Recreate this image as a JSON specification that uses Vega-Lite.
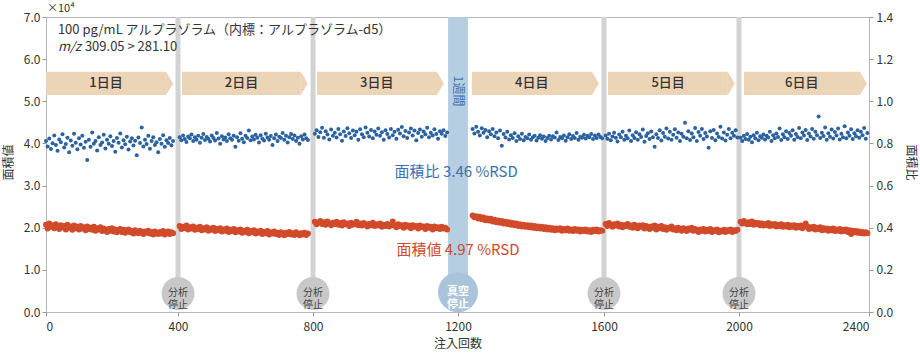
{
"$schema":"https://vega.github.io/schema/vega-lite/v6.json",
"width":823,"height":295,
"autosize":{"type":"none"},
"padding":{"left":46,"top":17,"right":51,"bottom":46},
"background":"white",
"config":{"view":{"stroke":"#b8b8b8","strokeWidth":1},"font":"Noto Sans CJK JP","axis":{"domain":false,"grid":false,"tickColor":"#999999","tickSize":4,"labelColor":"#333333","titleColor":"#333333","labelFont":"Noto Sans CJK JP","titleFont":"Noto Sans CJK JP","labelFontSize":12,"titleFontSize":12,"titleFontWeight":"normal"},"text":{"font":"Noto Sans CJK JP"}},
"datasets":{
"stops":[{"n":400},{"n":800},{"n":1600},{"n":2000}],
"days":[{"day":"1日目","s":0,"e":364,"m":182},{"day":"2日目","s":412,"e":764,"m":588},{"day":"3日目","s":811,"e":1142,"m":976},{"day":"4日目","s":1238,"e":1567,"m":1402},{"day":"5日目","s":1612,"e":1967,"m":1790},{"day":"6日目","s":2015,"e":2372,"m":2193}],
"pts":[
{"n":0,"a":2.07,"r":0.812},{"n":5,"a":1.98,"r":0.786},{"n":10,"a":2.10,"r":0.823},{"n":15,"a":2.02,"r":0.774},{"n":20,"a":2.05,"r":0.801},{"n":25,"a":1.99,"r":0.838},{"n":30,"a":2.08,"r":0.792},{"n":35,"a":2.03,"r":0.765},{"n":40,"a":1.97,"r":0.819},{"n":45,"a":2.06,"r":0.806},{"n":50,"a":2.01,"r":0.843},{"n":55,"a":2.04,"r":0.781},{"n":60,"a":1.96,"r":0.797},{"n":65,"a":2.07,"r":0.827},{"n":70,"a":2.00,"r":0.758},{"n":75,"a":2.03,"r":0.814},{"n":80,"a":1.95,"r":0.789},{"n":85,"a":2.05,"r":0.846},{"n":90,"a":1.99,"r":0.803},{"n":95,"a":2.02,"r":0.772},{"n":100,"a":1.96,"r":0.825},{"n":105,"a":2.04,"r":0.795},{"n":110,"a":1.98,"r":0.836},{"n":115,"a":2.01,"r":0.779},{"n":120,"a":1.94,"r":0.808},{"n":125,"a":2.03,"r":0.721},{"n":130,"a":1.97,"r":0.817},{"n":135,"a":2.00,"r":0.784},{"n":140,"a":1.95,"r":0.852},{"n":145,"a":2.02,"r":0.798},{"n":150,"a":1.93,"r":0.811},{"n":155,"a":1.99,"r":0.767},{"n":160,"a":1.96,"r":0.829},{"n":165,"a":2.01,"r":0.793},{"n":170,"a":1.92,"r":0.805},{"n":175,"a":1.98,"r":0.841},{"n":180,"a":1.95,"r":0.776},{"n":185,"a":1.90,"r":0.818},{"n":190,"a":1.97,"r":0.799},{"n":195,"a":1.93,"r":0.834},{"n":200,"a":1.99,"r":0.788},{"n":205,"a":1.91,"r":0.812},{"n":210,"a":1.96,"r":0.761},{"n":215,"a":1.89,"r":0.826},{"n":220,"a":1.94,"r":0.803},{"n":225,"a":1.97,"r":0.847},{"n":230,"a":1.90,"r":0.781},{"n":235,"a":1.95,"r":0.815},{"n":240,"a":1.88,"r":0.796},{"n":245,"a":1.93,"r":0.832},{"n":250,"a":1.96,"r":0.771},{"n":255,"a":1.89,"r":0.809},{"n":260,"a":1.92,"r":0.824},{"n":265,"a":1.86,"r":0.790},{"n":270,"a":1.94,"r":0.813},{"n":275,"a":1.90,"r":0.744},{"n":280,"a":1.87,"r":0.828},{"n":285,"a":1.93,"r":0.802},{"n":290,"a":1.89,"r":0.876},{"n":295,"a":1.85,"r":0.785},{"n":300,"a":1.91,"r":0.818},{"n":305,"a":1.88,"r":0.797},{"n":310,"a":1.93,"r":0.836},{"n":315,"a":1.86,"r":0.775},{"n":320,"a":1.90,"r":0.811},{"n":325,"a":1.84,"r":0.829},{"n":330,"a":1.91,"r":0.793},{"n":335,"a":1.87,"r":0.806},{"n":340,"a":1.85,"r":0.758},{"n":345,"a":1.90,"r":0.821},{"n":350,"a":1.86,"r":0.799},{"n":355,"a":1.92,"r":0.839},{"n":360,"a":1.84,"r":0.784},{"n":365,"a":1.88,"r":0.815},{"n":370,"a":1.91,"r":0.802},{"n":375,"a":1.85,"r":0.826},{"n":380,"a":1.89,"r":0.791},{"n":385,"a":1.87,"r":0.812},
{"n":405,"a":2.04,"r":0.829},{"n":410,"a":1.97,"r":0.815},{"n":415,"a":2.02,"r":0.838},{"n":420,"a":1.99,"r":0.821},{"n":425,"a":2.05,"r":0.807},{"n":430,"a":1.96,"r":0.833},{"n":435,"a":2.01,"r":0.824},{"n":440,"a":1.98,"r":0.842},{"n":445,"a":2.03,"r":0.812},{"n":450,"a":1.95,"r":0.829},{"n":455,"a":2.00,"r":0.818},{"n":460,"a":1.97,"r":0.836},{"n":465,"a":2.02,"r":0.803},{"n":470,"a":1.94,"r":0.827},{"n":475,"a":1.99,"r":0.845},{"n":480,"a":1.96,"r":0.816},{"n":485,"a":2.01,"r":0.831},{"n":490,"a":1.93,"r":0.822},{"n":495,"a":1.98,"r":0.809},{"n":500,"a":1.95,"r":0.838},{"n":505,"a":2.00,"r":0.826},{"n":510,"a":1.92,"r":0.814},{"n":515,"a":1.97,"r":0.849},{"n":520,"a":1.94,"r":0.823},{"n":525,"a":1.99,"r":0.798},{"n":530,"a":1.91,"r":0.834},{"n":535,"a":1.96,"r":0.819},{"n":540,"a":1.93,"r":0.828},{"n":545,"a":1.98,"r":0.811},{"n":550,"a":1.90,"r":0.843},{"n":555,"a":1.95,"r":0.825},{"n":560,"a":1.92,"r":0.817},{"n":565,"a":1.97,"r":0.836},{"n":570,"a":1.89,"r":0.784},{"n":575,"a":1.94,"r":0.829},{"n":580,"a":1.91,"r":0.813},{"n":585,"a":1.96,"r":0.848},{"n":590,"a":1.88,"r":0.822},{"n":595,"a":1.93,"r":0.806},{"n":600,"a":1.90,"r":0.837},{"n":605,"a":1.95,"r":0.826},{"n":610,"a":1.87,"r":0.861},{"n":615,"a":1.92,"r":0.815},{"n":620,"a":1.89,"r":0.833},{"n":625,"a":1.94,"r":0.819},{"n":630,"a":1.86,"r":0.841},{"n":635,"a":1.91,"r":0.827},{"n":640,"a":1.88,"r":0.805},{"n":645,"a":1.93,"r":0.839},{"n":650,"a":1.85,"r":0.822},{"n":655,"a":1.90,"r":0.814},{"n":660,"a":1.87,"r":0.846},{"n":665,"a":1.92,"r":0.828},{"n":670,"a":1.84,"r":0.817},{"n":675,"a":1.89,"r":0.835},{"n":680,"a":1.86,"r":0.793},{"n":685,"a":1.91,"r":0.824},{"n":690,"a":1.85,"r":0.842},{"n":695,"a":1.88,"r":0.811},{"n":700,"a":1.83,"r":0.832},{"n":705,"a":1.89,"r":0.826},{"n":710,"a":1.86,"r":0.849},{"n":715,"a":1.82,"r":0.818},{"n":720,"a":1.88,"r":0.836},{"n":725,"a":1.85,"r":0.804},{"n":730,"a":1.90,"r":0.829},{"n":735,"a":1.84,"r":0.845},{"n":740,"a":1.87,"r":0.821},{"n":745,"a":1.83,"r":0.838},{"n":750,"a":1.89,"r":0.812},{"n":755,"a":1.85,"r":0.827},{"n":760,"a":1.82,"r":0.799},{"n":765,"a":1.87,"r":0.834},{"n":770,"a":1.84,"r":0.819},{"n":775,"a":1.88,"r":0.842},{"n":780,"a":1.83,"r":0.825},{"n":785,"a":1.86,"r":0.816},
{"n":805,"a":2.14,"r":0.846},{"n":810,"a":2.08,"r":0.862},{"n":815,"a":2.12,"r":0.831},{"n":820,"a":2.16,"r":0.853},{"n":825,"a":2.09,"r":0.874},{"n":830,"a":2.13,"r":0.827},{"n":835,"a":2.07,"r":0.858},{"n":840,"a":2.15,"r":0.842},{"n":845,"a":2.10,"r":0.819},{"n":850,"a":2.06,"r":0.866},{"n":855,"a":2.12,"r":0.837},{"n":860,"a":2.09,"r":0.851},{"n":865,"a":2.14,"r":0.828},{"n":870,"a":2.07,"r":0.869},{"n":875,"a":2.11,"r":0.844},{"n":880,"a":2.05,"r":0.813},{"n":885,"a":2.13,"r":0.857},{"n":890,"a":2.08,"r":0.835},{"n":895,"a":2.10,"r":0.872},{"n":900,"a":2.04,"r":0.848},{"n":905,"a":2.12,"r":0.826},{"n":910,"a":2.07,"r":0.861},{"n":915,"a":2.09,"r":0.839},{"n":920,"a":2.14,"r":0.855},{"n":925,"a":2.06,"r":0.817},{"n":930,"a":2.10,"r":0.867},{"n":935,"a":2.05,"r":0.843},{"n":940,"a":2.11,"r":0.829},{"n":945,"a":2.08,"r":0.876},{"n":950,"a":2.03,"r":0.851},{"n":955,"a":2.09,"r":0.833},{"n":960,"a":2.06,"r":0.864},{"n":965,"a":2.12,"r":0.824},{"n":970,"a":2.04,"r":0.857},{"n":975,"a":2.08,"r":0.841},{"n":980,"a":2.05,"r":0.871},{"n":985,"a":2.10,"r":0.836},{"n":990,"a":2.02,"r":0.853},{"n":995,"a":2.07,"r":0.818},{"n":1000,"a":2.04,"r":0.862},{"n":1005,"a":2.09,"r":0.845},{"n":1010,"a":2.03,"r":0.828},{"n":1015,"a":2.06,"r":0.868},{"n":1020,"a":2.15,"r":0.839},{"n":1025,"a":2.05,"r":0.856},{"n":1030,"a":2.01,"r":0.822},{"n":1035,"a":2.08,"r":0.865},{"n":1040,"a":2.04,"r":0.847},{"n":1045,"a":2.06,"r":0.878},{"n":1050,"a":2.00,"r":0.834},{"n":1055,"a":2.07,"r":0.859},{"n":1060,"a":2.03,"r":0.826},{"n":1065,"a":2.05,"r":0.852},{"n":1070,"a":1.99,"r":0.871},{"n":1075,"a":2.06,"r":0.838},{"n":1080,"a":2.02,"r":0.861},{"n":1085,"a":2.04,"r":0.815},{"n":1090,"a":1.98,"r":0.849},{"n":1095,"a":2.05,"r":0.866},{"n":1100,"a":2.01,"r":0.832},{"n":1105,"a":2.03,"r":0.857},{"n":1110,"a":1.97,"r":0.843},{"n":1115,"a":2.04,"r":0.874},{"n":1120,"a":2.00,"r":0.829},{"n":1125,"a":2.02,"r":0.851},{"n":1130,"a":1.96,"r":0.838},{"n":1135,"a":2.03,"r":0.867},{"n":1140,"a":1.99,"r":0.845},{"n":1145,"a":2.01,"r":0.822},{"n":1150,"a":1.97,"r":0.858},{"n":1155,"a":2.02,"r":0.846},{"n":1160,"a":1.98,"r":0.863},{"n":1165,"a":2.00,"r":0.835},{"n":1170,"a":1.96,"r":0.852},
{"n":1240,"a":2.29,"r":0.868},{"n":1245,"a":2.25,"r":0.847},{"n":1250,"a":2.27,"r":0.879},{"n":1255,"a":2.22,"r":0.856},{"n":1260,"a":2.26,"r":0.838},{"n":1265,"a":2.20,"r":0.872},{"n":1270,"a":2.24,"r":0.851},{"n":1275,"a":2.18,"r":0.864},{"n":1280,"a":2.22,"r":0.829},{"n":1285,"a":2.17,"r":0.858},{"n":1290,"a":2.21,"r":0.843},{"n":1295,"a":2.15,"r":0.869},{"n":1300,"a":2.19,"r":0.834},{"n":1305,"a":2.13,"r":0.852},{"n":1310,"a":2.17,"r":0.825},{"n":1315,"a":2.12,"r":0.861},{"n":1320,"a":2.16,"r":0.789},{"n":1325,"a":2.10,"r":0.845},{"n":1330,"a":2.14,"r":0.828},{"n":1335,"a":2.09,"r":0.856},{"n":1340,"a":2.13,"r":0.819},{"n":1345,"a":2.07,"r":0.839},{"n":1350,"a":2.11,"r":0.826},{"n":1355,"a":2.06,"r":0.848},{"n":1360,"a":2.10,"r":0.812},{"n":1365,"a":2.04,"r":0.834},{"n":1370,"a":2.08,"r":0.821},{"n":1375,"a":2.03,"r":0.846},{"n":1380,"a":2.07,"r":0.815},{"n":1385,"a":2.02,"r":0.831},{"n":1390,"a":2.06,"r":0.824},{"n":1395,"a":2.01,"r":0.842},{"n":1400,"a":2.05,"r":0.818},{"n":1405,"a":2.00,"r":0.829},{"n":1410,"a":2.04,"r":0.836},{"n":1415,"a":1.99,"r":0.814},{"n":1420,"a":2.03,"r":0.827},{"n":1425,"a":1.98,"r":0.839},{"n":1430,"a":2.02,"r":0.822},{"n":1435,"a":1.97,"r":0.833},{"n":1440,"a":2.01,"r":0.811},{"n":1445,"a":1.96,"r":0.826},{"n":1450,"a":2.00,"r":0.837},{"n":1455,"a":1.95,"r":0.819},{"n":1460,"a":1.99,"r":0.834},{"n":1465,"a":1.94,"r":0.828},{"n":1470,"a":1.98,"r":0.852},{"n":1475,"a":1.95,"r":0.816},{"n":1480,"a":1.99,"r":0.831},{"n":1485,"a":1.93,"r":0.824},{"n":1490,"a":1.97,"r":0.838},{"n":1495,"a":1.94,"r":0.813},{"n":1500,"a":1.98,"r":0.829},{"n":1505,"a":1.93,"r":0.843},{"n":1510,"a":1.96,"r":0.821},{"n":1515,"a":1.92,"r":0.835},{"n":1520,"a":1.97,"r":0.826},{"n":1525,"a":1.93,"r":0.849},{"n":1530,"a":1.96,"r":0.818},{"n":1535,"a":1.91,"r":0.832},{"n":1540,"a":1.95,"r":0.827},{"n":1545,"a":1.92,"r":0.841},{"n":1550,"a":1.96,"r":0.823},{"n":1555,"a":1.91,"r":0.836},{"n":1560,"a":1.94,"r":0.829},{"n":1565,"a":1.90,"r":0.845},{"n":1570,"a":1.95,"r":0.821},{"n":1575,"a":1.92,"r":0.838},{"n":1580,"a":1.96,"r":0.826},{"n":1585,"a":1.91,"r":0.842},{"n":1590,"a":1.94,"r":0.831},{"n":1595,"a":1.93,"r":0.824},
{"n":1605,"a":2.09,"r":0.838},{"n":1610,"a":2.04,"r":0.822},{"n":1615,"a":2.11,"r":0.846},{"n":1620,"a":2.06,"r":0.815},{"n":1625,"a":2.02,"r":0.833},{"n":1630,"a":2.08,"r":0.851},{"n":1635,"a":2.05,"r":0.827},{"n":1640,"a":2.10,"r":0.809},{"n":1645,"a":2.03,"r":0.842},{"n":1650,"a":2.07,"r":0.829},{"n":1655,"a":2.01,"r":0.856},{"n":1660,"a":2.06,"r":0.818},{"n":1665,"a":2.04,"r":0.836},{"n":1670,"a":2.09,"r":0.824},{"n":1675,"a":2.02,"r":0.861},{"n":1680,"a":2.05,"r":0.812},{"n":1685,"a":2.00,"r":0.839},{"n":1690,"a":2.07,"r":0.826},{"n":1695,"a":2.03,"r":0.853},{"n":1700,"a":1.99,"r":0.817},{"n":1705,"a":2.05,"r":0.844},{"n":1710,"a":2.02,"r":0.831},{"n":1715,"a":2.06,"r":0.866},{"n":1720,"a":1.98,"r":0.808},{"n":1725,"a":2.04,"r":0.835},{"n":1730,"a":2.01,"r":0.848},{"n":1735,"a":1.97,"r":0.821},{"n":1740,"a":2.03,"r":0.857},{"n":1745,"a":2.00,"r":0.829},{"n":1750,"a":2.05,"r":0.784},{"n":1755,"a":1.96,"r":0.843},{"n":1760,"a":2.02,"r":0.826},{"n":1765,"a":1.99,"r":0.862},{"n":1770,"a":2.04,"r":0.814},{"n":1775,"a":1.97,"r":0.849},{"n":1780,"a":2.01,"r":0.832},{"n":1785,"a":1.95,"r":0.871},{"n":1790,"a":2.00,"r":0.823},{"n":1795,"a":1.98,"r":0.855},{"n":1800,"a":2.03,"r":0.818},{"n":1805,"a":1.96,"r":0.841},{"n":1810,"a":1.99,"r":0.867},{"n":1815,"a":1.94,"r":0.827},{"n":1820,"a":2.00,"r":0.852},{"n":1825,"a":1.97,"r":0.811},{"n":1830,"a":1.93,"r":0.846},{"n":1835,"a":1.99,"r":0.832},{"n":1840,"a":1.96,"r":0.898},{"n":1845,"a":1.92,"r":0.824},{"n":1850,"a":1.98,"r":0.858},{"n":1855,"a":1.95,"r":0.816},{"n":1860,"a":2.00,"r":0.847},{"n":1865,"a":1.93,"r":0.829},{"n":1870,"a":1.97,"r":0.873},{"n":1875,"a":1.94,"r":0.812},{"n":1880,"a":1.90,"r":0.854},{"n":1885,"a":1.96,"r":0.836},{"n":1890,"a":1.93,"r":0.868},{"n":1895,"a":1.97,"r":0.821},{"n":1900,"a":1.91,"r":0.849},{"n":1905,"a":1.95,"r":0.833},{"n":1910,"a":1.92,"r":0.779},{"n":1915,"a":1.97,"r":0.858},{"n":1920,"a":1.90,"r":0.826},{"n":1925,"a":1.94,"r":0.864},{"n":1930,"a":1.92,"r":0.815},{"n":1935,"a":1.96,"r":0.847},{"n":1940,"a":1.89,"r":0.831},{"n":1945,"a":1.93,"r":0.879},{"n":1950,"a":1.91,"r":0.823},{"n":1955,"a":1.95,"r":0.852},{"n":1960,"a":1.90,"r":0.814},{"n":1965,"a":1.94,"r":0.841},{"n":1970,"a":1.92,"r":0.869},{"n":1975,"a":1.96,"r":0.825},{"n":1980,"a":1.90,"r":0.851},{"n":1985,"a":1.94,"r":0.836},{"n":1990,"a":1.92,"r":0.862},{"n":1995,"a":1.95,"r":0.828},
{"n":2005,"a":2.14,"r":0.827},{"n":2010,"a":2.10,"r":0.812},{"n":2015,"a":2.16,"r":0.836},{"n":2020,"a":2.11,"r":0.821},{"n":2025,"a":2.08,"r":0.845},{"n":2030,"a":2.13,"r":0.818},{"n":2035,"a":2.09,"r":0.832},{"n":2040,"a":2.15,"r":0.806},{"n":2045,"a":2.07,"r":0.839},{"n":2050,"a":2.12,"r":0.824},{"n":2055,"a":2.08,"r":0.851},{"n":2060,"a":2.11,"r":0.815},{"n":2065,"a":2.06,"r":0.834},{"n":2070,"a":2.10,"r":0.827},{"n":2075,"a":2.05,"r":0.842},{"n":2080,"a":2.09,"r":0.819},{"n":2085,"a":2.06,"r":0.836},{"n":2090,"a":2.11,"r":0.828},{"n":2095,"a":2.04,"r":0.856},{"n":2100,"a":2.08,"r":0.812},{"n":2105,"a":2.05,"r":0.839},{"n":2110,"a":2.09,"r":0.825},{"n":2115,"a":2.03,"r":0.847},{"n":2120,"a":2.07,"r":0.831},{"n":2125,"a":2.04,"r":0.871},{"n":2130,"a":2.08,"r":0.816},{"n":2135,"a":2.02,"r":0.843},{"n":2140,"a":2.06,"r":0.829},{"n":2145,"a":2.03,"r":0.858},{"n":2150,"a":2.07,"r":0.821},{"n":2155,"a":2.01,"r":0.849},{"n":2160,"a":2.05,"r":0.836},{"n":2165,"a":2.02,"r":0.862},{"n":2170,"a":2.06,"r":0.818},{"n":2175,"a":2.00,"r":0.845},{"n":2180,"a":2.04,"r":0.831},{"n":2185,"a":2.01,"r":0.873},{"n":2190,"a":2.05,"r":0.825},{"n":2195,"a":1.99,"r":0.852},{"n":2200,"a":2.03,"r":0.838},{"n":2205,"a":2.10,"r":0.864},{"n":2210,"a":2.02,"r":0.816},{"n":2215,"a":1.97,"r":0.847},{"n":2220,"a":2.01,"r":0.833},{"n":2225,"a":1.98,"r":0.869},{"n":2230,"a":2.02,"r":0.822},{"n":2235,"a":1.96,"r":0.855},{"n":2240,"a":2.00,"r":0.839},{"n":2245,"a":1.97,"r":0.928},{"n":2250,"a":2.01,"r":0.826},{"n":2255,"a":1.94,"r":0.851},{"n":2260,"a":1.99,"r":0.835},{"n":2265,"a":1.95,"r":0.876},{"n":2270,"a":1.98,"r":0.817},{"n":2275,"a":1.93,"r":0.848},{"n":2280,"a":1.97,"r":0.832},{"n":2285,"a":1.94,"r":0.866},{"n":2290,"a":1.98,"r":0.823},{"n":2295,"a":1.92,"r":0.854},{"n":2300,"a":1.96,"r":0.838},{"n":2305,"a":1.93,"r":0.871},{"n":2310,"a":1.97,"r":0.819},{"n":2315,"a":1.91,"r":0.846},{"n":2320,"a":1.95,"r":0.829},{"n":2325,"a":1.92,"r":0.881},{"n":2330,"a":1.96,"r":0.825},{"n":2335,"a":1.90,"r":0.852},{"n":2340,"a":1.94,"r":0.836},{"n":2345,"a":1.85,"r":0.867},{"n":2350,"a":1.93,"r":0.821},{"n":2355,"a":1.89,"r":0.848},{"n":2360,"a":1.92,"r":0.834},{"n":2365,"a":1.88,"r":0.862},{"n":2370,"a":1.91,"r":0.827},{"n":2375,"a":1.87,"r":0.855},{"n":2380,"a":1.90,"r":0.839},{"n":2385,"a":1.86,"r":0.873},{"n":2390,"a":1.89,"r":0.822},{"n":2395,"a":1.87,"r":0.849}
]},
"layer":[
{"data":{"name":"stops"},"mark":{"type":"rule","strokeWidth":19,"color":"#b6cee1","strokeCap":"butt"},
 "encoding":{"x":{"datum":1200,"type":"quantitative","scale":{"domain":[0,400,800,1200,1600,2000,2400],"range":[0,132,267,412,558,693,823],"nice":false},
   "axis":{"values":[0,400,800,1200,1600,2000,2400],"format":"d","title":"注入回数","titleY":31,"titleBaseline":"middle","labelPadding":5}},
 "y":{"datum":7,"type":"quantitative","scale":{"domain":[0,7],"nice":false},"axis":null},"y2":{"datum":0.5}}},
{"data":{"name":"stops"},"mark":{"type":"rule","strokeWidth":5,"color":"#d3d3d3","strokeCap":"butt"},
 "encoding":{"x":{"field":"n","type":"quantitative","scale":{"domain":[0,400,800,1200,1600,2000,2400],"range":[0,132,267,412,558,693,823],"nice":false}},
 "y":{"datum":7,"type":"quantitative","scale":{"domain":[0,7],"nice":false},"axis":null},"y2":{"datum":0.6}}},
{"data":{"name":"days"},"mark":{"type":"rect","color":"#ecd4b6"},
 "encoding":{"x":{"field":"s","type":"quantitative","scale":{"domain":[0,400,800,1200,1600,2000,2400],"range":[0,132,267,412,558,693,823],"nice":false}},"x2":{"field":"e"},
 "y":{"datum":5.7,"type":"quantitative","scale":{"domain":[0,7],"nice":false},"axis":null},"y2":{"datum":5.15}}},
{"data":{"name":"days"},"mark":{"type":"point","filled":true,"opacity":1,"color":"#ecd4b6","shape":"M0,-1L0.6,0L0,1Z","size":538},
 "encoding":{"x":{"field":"e","type":"quantitative","scale":{"domain":[0,400,800,1200,1600,2000,2400],"range":[0,132,267,412,558,693,823],"nice":false}},
 "y":{"datum":5.425,"type":"quantitative","scale":{"domain":[0,7],"nice":false},"axis":null}}},
{"data":{"name":"days"},"mark":{"type":"text","fontSize":13,"fontWeight":500,"color":"#333333","baseline":"middle","align":"center"},
 "encoding":{"x":{"field":"m","type":"quantitative","scale":{"domain":[0,400,800,1200,1600,2000,2400],"range":[0,132,267,412,558,693,823],"nice":false}},
 "y":{"datum":5.425,"type":"quantitative","scale":{"domain":[0,7],"nice":false},"axis":null},"text":{"field":"day"}}},
{"data":{"values":[{"t":"1週間"}]},"mark":{"type":"text","fontSize":12,"angle":90,"color":"#3a6fae","baseline":"middle","align":"center"},
 "encoding":{"x":{"datum":1200,"type":"quantitative","scale":{"domain":[0,400,800,1200,1600,2000,2400],"range":[0,132,267,412,558,693,823],"nice":false}},
 "y":{"datum":5.24,"type":"quantitative","scale":{"domain":[0,7],"nice":false},"axis":null},"text":{"field":"t"}}},
{"data":{"name":"pts"},"mark":{"type":"circle","size":36,"opacity":1,"color":"#d14a2a"},
 "encoding":{"x":{"field":"n","type":"quantitative","scale":{"domain":[0,400,800,1200,1600,2000,2400],"range":[0,132,267,412,558,693,823],"nice":false}},
 "y":{"field":"a","type":"quantitative","scale":{"domain":[0,7],"nice":false},
   "axis":{"orient":"left","values":[0,1,2,3,4,5,6,7],"format":".1f","title":"面積値","titleX":-38,"titleY":145,"titleAlign":"center","titleBaseline":"middle","labelPadding":2}}}},
{"data":{"name":"pts"},"mark":{"type":"circle","size":16,"opacity":1,"color":"#2b62a2"},
 "encoding":{"x":{"field":"n","type":"quantitative","scale":{"domain":[0,400,800,1200,1600,2000,2400],"range":[0,132,267,412,558,693,823],"nice":false}},
 "y":{"field":"r","type":"quantitative","scale":{"domain":[0,1.4],"nice":false},
   "axis":{"orient":"right","values":[0,0.2,0.4,0.6,0.8,1.0,1.2,1.4],"format":".1f","title":"面積比","titleAngle":90,"titleX":41,"titleY":145,"titleAlign":"center","titleBaseline":"middle","labelPadding":3}}}},
{"data":{"name":"stops"},"mark":{"type":"point","filled":true,"opacity":1,"shape":"circle","size":1089,"color":"#c8c8c8"},
 "encoding":{"x":{"field":"n","type":"quantitative","scale":{"domain":[0,400,800,1200,1600,2000,2400],"range":[0,132,267,412,558,693,823],"nice":false}},
 "y":{"datum":0.44,"type":"quantitative","scale":{"domain":[0,7],"nice":false},"axis":null}}},
{"data":{"name":"stops"},"mark":{"type":"text","fontSize":10,"lineHeight":12,"lineBreak":"\n","color":"#444444","baseline":"middle","align":"center","text":"分析\n停止"},
 "encoding":{"x":{"field":"n","type":"quantitative","scale":{"domain":[0,400,800,1200,1600,2000,2400],"range":[0,132,267,412,558,693,823],"nice":false}},
 "y":{"datum":0.44,"type":"quantitative","scale":{"domain":[0,7],"nice":false},"axis":null}}},
{"data":{"values":[{"t":"真空\n停止"}]},"mark":{"type":"point","filled":true,"opacity":1,"shape":"circle","size":1600,"color":"#a9c4db"},
 "encoding":{"x":{"datum":1200,"type":"quantitative","scale":{"domain":[0,400,800,1200,1600,2000,2400],"range":[0,132,267,412,558,693,823],"nice":false}},
 "y":{"datum":0.47,"type":"quantitative","scale":{"domain":[0,7],"nice":false},"axis":null}}},
{"data":{"values":[{"t":"真空\n停止"}]},"mark":{"type":"text","fontSize":11,"fontWeight":"bold","lineHeight":13,"lineBreak":"\n","color":"#ffffff","baseline":"middle","align":"center"},
 "encoding":{"x":{"datum":1200,"type":"quantitative","scale":{"domain":[0,400,800,1200,1600,2000,2400],"range":[0,132,267,412,558,693,823],"nice":false}},
 "y":{"datum":0.47,"type":"quantitative","scale":{"domain":[0,7],"nice":false},"axis":null},"text":{"field":"t"}}},
{"data":{"values":[{"t":"面積比 3.46 %RSD"}]},"mark":{"type":"text","fontSize":15,"color":"#3a72b0","baseline":"middle","align":"center"},
 "encoding":{"x":{"datum":1195,"type":"quantitative","scale":{"domain":[0,400,800,1200,1600,2000,2400],"range":[0,132,267,412,558,693,823],"nice":false}},
 "y":{"datum":3.32,"type":"quantitative","scale":{"domain":[0,7],"nice":false},"axis":null},"text":{"field":"t"}}},
{"data":{"values":[{"t":"面積値 4.97 %RSD"}]},"mark":{"type":"text","fontSize":15,"color":"#d04a2b","baseline":"middle","align":"center"},
 "encoding":{"x":{"datum":1200,"type":"quantitative","scale":{"domain":[0,400,800,1200,1600,2000,2400],"range":[0,132,267,412,558,693,823],"nice":false}},
 "y":{"datum":1.47,"type":"quantitative","scale":{"domain":[0,7],"nice":false},"axis":null},"text":{"field":"t"}}},
{"data":{"values":[{"t":"100 pg/mL アルプラゾラム（内標：アルプラゾラム-d5）"}]},"mark":{"type":"text","fontSize":13,"color":"#333333","baseline":"middle","align":"left"},
 "encoding":{"x":{"datum":36,"type":"quantitative","scale":{"domain":[0,400,800,1200,1600,2000,2400],"range":[0,132,267,412,558,693,823],"nice":false}},
 "y":{"datum":6.69,"type":"quantitative","scale":{"domain":[0,7],"nice":false},"axis":null},"text":{"field":"t"}}},
{"data":{"values":[{"t":"m/z"}]},"mark":{"type":"text","fontSize":13,"fontStyle":"italic","color":"#333333","baseline":"middle","align":"left"},
 "encoding":{"x":{"datum":36,"type":"quantitative","scale":{"domain":[0,400,800,1200,1600,2000,2400],"range":[0,132,267,412,558,693,823],"nice":false}},
 "y":{"datum":6.29,"type":"quantitative","scale":{"domain":[0,7],"nice":false},"axis":null},"text":{"field":"t"}}},
{"data":{"values":[{"t":"309.05 > 281.10"}]},"mark":{"type":"text","fontSize":13,"color":"#333333","baseline":"middle","align":"left","dx":27},
 "encoding":{"x":{"datum":36,"type":"quantitative","scale":{"domain":[0,400,800,1200,1600,2000,2400],"range":[0,132,267,412,558,693,823],"nice":false}},
 "y":{"datum":6.29,"type":"quantitative","scale":{"domain":[0,7],"nice":false},"axis":null},"text":{"field":"t"}}},
{"data":{"values":[{"t":"×10⁴"}]},"mark":{"type":"text","fontSize":11,"color":"#333333","baseline":"middle","align":"left","dx":1},
 "encoding":{"x":{"datum":0,"type":"quantitative","scale":{"domain":[0,400,800,1200,1600,2000,2400],"range":[0,132,267,412,558,693,823],"nice":false}},
 "y":{"datum":7.19,"type":"quantitative","scale":{"domain":[0,7],"nice":false},"axis":null},"text":{"field":"t"}}}
],
"resolve":{"scale":{"y":"independent"},"axis":{"y":"independent"}}
}
